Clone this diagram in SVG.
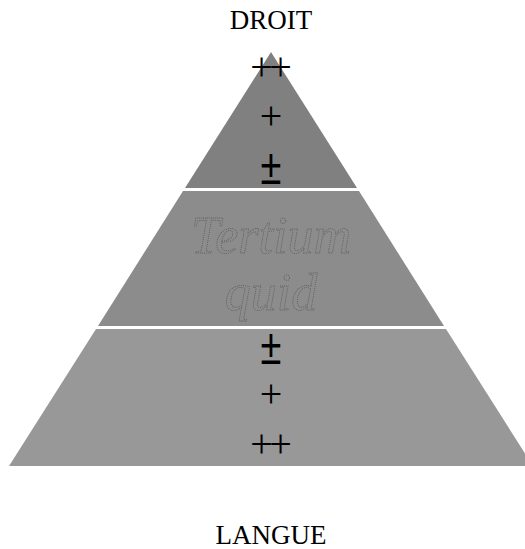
<svg xmlns="http://www.w3.org/2000/svg" width="525" height="549" viewBox="0 0 525 549">
<style>
.lbl{font-family:"Liberation Serif","Times New Roman",serif;font-size:27px;fill:#000;text-anchor:middle}
.sym{font-family:"Liberation Serif","Times New Roman",serif;font-size:40px;fill:#000;text-anchor:middle}
.dbl{letter-spacing:-3.5px}
.pm{font-family:"Liberation Sans",Arial,sans-serif;font-size:38px;fill:#000;text-anchor:middle}
.tq{font-family:"Liberation Serif","Times New Roman",serif;font-style:italic;font-size:52px;fill:#8c8c8c;stroke:#5e5e5e;stroke-width:0.8;stroke-dasharray:1 1;text-anchor:middle}
</style>
<rect width="525" height="549" fill="#fff"/>
<g id="top">
<polygon points="271,52 357,188 185,188" fill="#808080"/>
<text class="sym dbl" x="269.2" y="79.5">++</text>
<text class="sym" x="271" y="129">+</text>
<text class="pm" transform="translate(271,184) scale(1,1.3)">±</text>
</g>
<g id="middle">
<polygon points="183,191 359,191 444,326 98,326" fill="#8c8c8c"/>
<text class="tq" x="271" y="253">Tertium</text>
<text class="tq" x="271" y="310">quid</text>
</g>
<g id="bottom">
<polygon points="96,329 446,329 533,466 9,466" fill="#989898"/>
<text class="pm" transform="translate(271,363.5) scale(1,1.3)">±</text>
<text class="sym" x="271" y="407">+</text>
<text class="sym dbl" x="269.2" y="457">++</text>
</g>
<g id="labels">
<text class="lbl" x="271" y="29">DROIT</text>
<text class="lbl" x="271" y="544">LANGUE</text>
</g>
<g id="connectors"/>
</svg>
